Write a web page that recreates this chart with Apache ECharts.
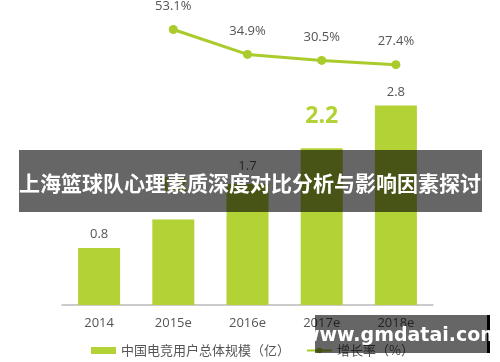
<!DOCTYPE html>
<html>
<head>
<meta charset="UTF-8">
<title>上海篮球队心理素质深度对比分析与影响因素探讨</title>
<style>
  html, body { margin: 0; padding: 0; background: #fff; }
  #chart { width: 500px; height: 362px; }
</style>
</head>
<body>
<div id="chart"></div>
<script src="https://cdn.jsdelivr.net/npm/echarts@6/dist/echarts.min.js"></script>
<script>
// 数据
var years = ['2014', '2015e', '2016e', '2017e', '2018e'];
var userScale = [0.8, 1.2, 1.7, 2.2, 2.8];          // 中国电竞用户总体规模（亿）
var growthRate = [null, 53.1, 34.9, 30.5, 27.4];     // 增长率（%）
var barName = '中国电竞用户总体规模（亿）';
var lineName = '增长率（%）';

var GREEN = '#b2d235';
var LINE_GREEN = '#a9cb2c';

var chart = echarts.init(document.getElementById('chart'));

// 个别柱子的标签样式（原图里2015e和2017e是加粗绿色大字）
var barData = userScale.map(function (v, i) {
  var item = { value: v };
  if (i === 3) {
    item.label = { fontSize: 23, fontWeight: 'bold', color: GREEN, distance: 20 };
  } else if (i === 1) {
    item.label = { fontSize: 19, fontWeight: 'bold', color: GREEN, distance: 24 };
  } else if (i === 2) {
    item.label = { distance: 11 };
  }
  return item;
});

var option = {
  backgroundColor: '#fff',
  animation: false,
  textStyle: { fontFamily: 'Open Sans, Noto Sans CJK SC, sans-serif' },
  grid: { left: 62, right: 67, top: 20, bottom: 57 },
  legend: {
    bottom: 0,
    left: 86,
    itemGap: 16,
    itemWidth: 25,
    itemHeight: 7,
    textStyle: { color: '#555', fontSize: 13, fontFamily: 'Noto Sans CJK SC' },
    data: [
      { name: barName, icon: 'rect' },
      { name: lineName }
    ]
  },
  xAxis: {
    type: 'category',
    data: years,
    axisLine: { lineStyle: { color: '#bbb', width: 1.5 } },
    axisTick: { show: false },
    axisLabel: { color: '#555', fontSize: 13, margin: 12 }
  },
  yAxis: [
    { type: 'value', min: 0, max: 4, show: false, splitLine: { show: false } },
    { type: 'value', min: -148, max: 60, show: false, splitLine: { show: false } }
  ],
  series: [
    {
      name: barName,
      type: 'bar',
      data: barData,
      barWidth: 42,
      itemStyle: { color: GREEN },
      label: { show: true, position: 'top', color: '#555', fontSize: 13, distance: 7 }
    },
    {
      name: lineName,
      type: 'line',
      yAxisIndex: 1,
      data: growthRate,
      symbol: 'circle',
      symbolSize: 9,
      lineStyle: { color: LINE_GREEN, width: 3 },
      itemStyle: { color: LINE_GREEN },
      label: {
        show: true,
        position: 'top',
        distance: 12,
        color: '#555',
        fontSize: 13,
        formatter: function (p) { return p.value.toFixed(1) + '%'; }
      }
    }
  ],
  graphic: [
    {
      type: 'rect',
      shape: { x: 19, y: 150, width: 463, height: 62 },
      style: { fill: 'rgba(0,0,0,0.6)' },
      z: 100
    },
    {
      type: 'text',
      x: 250, y: 183,
      style: {
        text: '上海篮球队心理素质深度对比分析与影响因素探讨',
        fill: '#fff',
        font: 'bold 21px "Noto Sans CJK SC"',
        align: 'center',
        verticalAlign: 'middle'
      },
      z: 101
    },
    {
      type: 'rect',
      shape: { x: 315, y: 315, width: 172, height: 38 },
      style: { fill: 'rgba(0,0,0,0.6)' },
      z: 100
    },
    {
      type: 'rect',
      shape: { x: 487, y: 315, width: 3, height: 38 },
      style: { fill: '#000' },
      z: 100
    },
    {
      type: 'text',
      x: 401, y: 336,
      style: {
        text: 'www.gmdatai.com',
        fill: '#fff',
        font: 'bold 19px "DejaVu Sans"',
        align: 'center',
        verticalAlign: 'middle'
      },
      z: 101
    }
  ]
};

chart.setOption(option);
window.addEventListener('resize', function () { chart.resize(); });
</script>
</body>
</html>
